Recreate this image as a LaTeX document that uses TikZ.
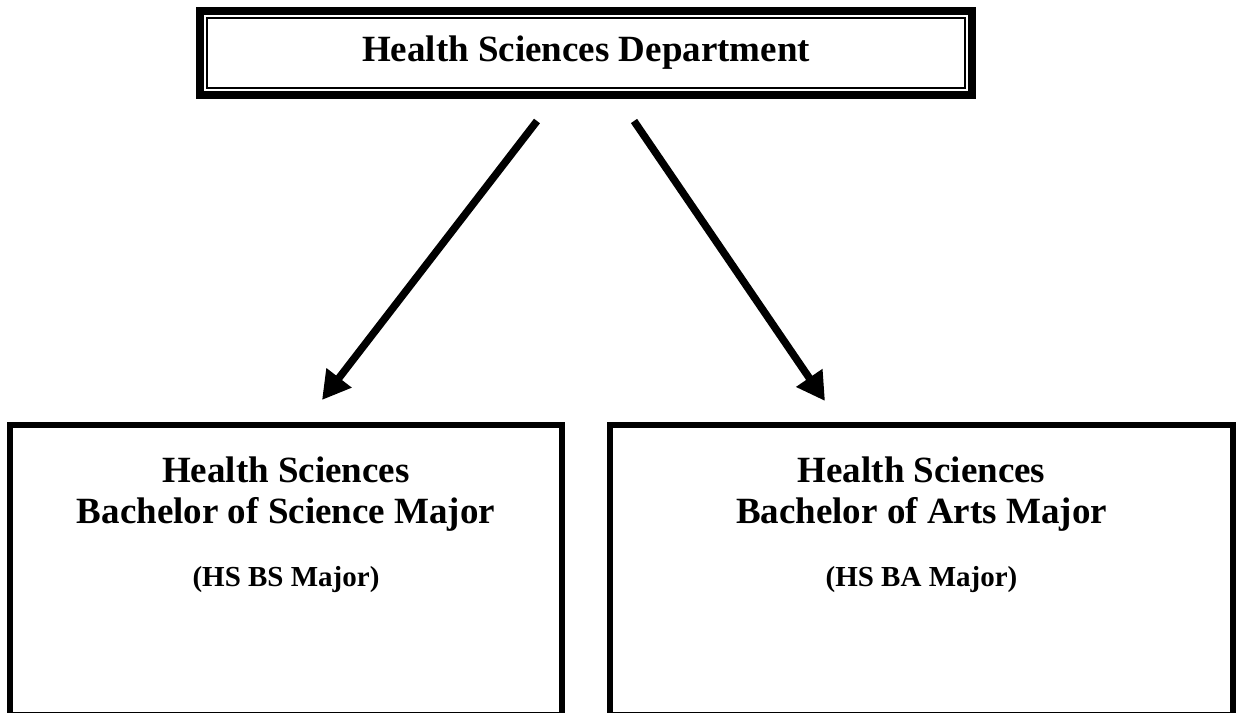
\documentclass[tikz,border=0pt]{standalone}
\usepackage{fontspec}
\setmainfont{Liberation Serif}
\usetikzlibrary{arrows.meta,positioning}

\tikzset{
    deptbox/.style={draw,line width=8pt,inner sep=0pt,minimum width=772pt,minimum height=84pt,
        font=\fontsize{37}{41}\selectfont\bfseries},
    innerframe/.style={draw,line width=2pt,inner sep=0pt,minimum width=758pt,minimum height=70pt},
    majorbox/.style={draw,line width=6pt,inner sep=0pt,minimum height=290pt},
    majortext/.style={align=center,inner sep=0pt,anchor=north,font=\fontsize{37}{41}\selectfont\bfseries},
    arrowline/.style={line width=7.5pt,-{Triangle[length=28pt,width=30pt]}}
}

\begin{document}
\begin{tikzpicture}[x=1pt,y=1pt]
        \useasboundingbox (0,0) rectangle (1236,712);
        % department
        \node [deptbox] (dept) at (586,659) {Health Sciences Department};
        \node [innerframe] (deptframe) at (dept.center) {};
        % majors
        \node [majorbox,minimum width=552pt] (bsbox) at (286,142) {};
        \node [majorbox,minimum width=623pt] (babox) at (921.5,142) {};
        \node [majortext,below=35pt of bsbox.north] (bstext)
            {Health Sciences\\Bachelor of Science Major\\[22pt]{\fontsize{29}{34}\selectfont (HS BS Major)}};
        \node [majortext,below=35pt of babox.north] (batext)
            {Health Sciences\\Bachelor of Arts Major\\[22pt]{\fontsize{29}{34}\selectfont (HS BA Major)}};
        % arrows
        \coordinate (bsfrom) at ([shift={(-49,-22)}]dept.south);
        \coordinate (bafrom) at ([shift={(48,-22)}]dept.south);
        \coordinate (bsto) at ([shift={(36,22)}]bsbox.north);
        \coordinate (bato) at ([shift={(-96.5,21)}]babox.north);
        \draw [arrowline] (bsfrom) -- (bsto);
        \draw [arrowline] (bafrom) -- (bato);
    \end{tikzpicture}
\end{document}
